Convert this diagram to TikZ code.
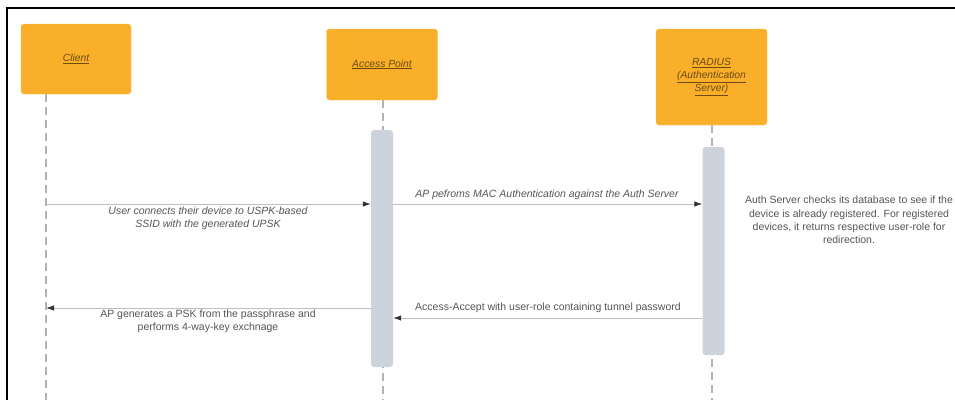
\documentclass[tikz,border=0pt]{standalone}
\usepackage{fontspec}
\setmainfont{Liberation Sans}
\usetikzlibrary{positioning,arrows.meta,calc}
\definecolor{boxorange}{HTML}{F9AF2A}
\definecolor{boxtext}{HTML}{6E4B12}
\definecolor{barfill}{HTML}{CDD3DD}
\definecolor{notetext}{HTML}{555555}

\begin{document}
\begin{tikzpicture}[x=1pt,y=-1pt,
  actor/.style={rectangle,rounded corners=3pt,fill=boxorange,draw=boxorange!80!white,minimum width=110pt,text=boxtext,font=\fontsize{10.3}{12.7}\selectfont\itshape,align=center,inner sep=0pt},
  bar/.style={rectangle,rounded corners=3pt,fill=barfill,minimum width=22pt,inner sep=0pt},
  life/.style={draw=black!30,line width=1.1pt,dash pattern=on 8pt off 5pt},
  msg/.style={draw=black!25,line width=0.8pt,-{Latex[length=8pt,width=5.5pt,color=black!80]}},
  lbl/.style={text=notetext,font=\fontsize{10.5}{13.3}\selectfont,align=center,inner sep=0pt},
  lbli/.style={lbl,font=\fontsize{10.5}{13.3}\selectfont\itshape}]
  \useasboundingbox (0,0) rectangle (955,400);
  % frame
  \draw[line width=2.4pt] (955,8) -- (7,8) -- (7,400);
  % actors
  \node[actor,minimum height=70pt] (client) at (76,59) {\underline{Client}};
  \node[actor,minimum width=111pt,minimum height=71pt] (ap) at (382,64.5) {\underline{Access Point}};
  \node[actor,minimum width=111pt,minimum height=96pt] (radius) at (711.5,77) {\underline{RADIUS}\\\underline{(Authentication}\\\underline{Server)}};
  % lifelines
  \coordinate (clientend) at (46,400);
  \coordinate (apend) at (383,400);
  \coordinate (radend) at (712,400);
  \draw[life] (clientend |- client.south) -- (clientend);
  \draw[life] (apend |- ap.south) -- (apend);
  \draw[life] (radend |- radius.south) -- (radend);
  % activation bars
  \node[bar,minimum height=237pt] (apbar) at (382,248.5) {};
  \node[bar,minimum height=208pt] (radbar) at (713.5,251) {};
  % messages
  \coordinate (m1) at (46,204);
  \coordinate (m3) at (713,318);
  \coordinate (m4) at (46,308);
  \draw[msg] (m1) -- (apbar.west |- m1);
  \node[lbli] (m1lbl) at (208,218) {User connects their device to USPK-based\\SSID with the generated UPSK};
  \draw[msg] (apbar.east |- m1) -- (radbar.west |- m1);
  \node[lbli] (m2lbl) at (547,195) {AP pefroms MAC Authentication against the Auth Server};
  \node[lbl] (note) at (849,220) {Auth Server checks its database to see if the\\device is already registered. For registered\\devices, it returns respective user-role for\\redirection.};
  \draw[msg] (radbar.west |- m3) -- (apbar.east |- m3);
  \node[lbl] (m3lbl) at (548,308) {Access-Accept with user-role containing tunnel password};
  \draw[msg] (apbar.west |- m4) -- (m4);
  \node[lbl] (m4lbl) at (208,321) {AP generates a PSK from the passphrase and\\performs 4-way-key exchnage};
\end{tikzpicture}
\end{document}
